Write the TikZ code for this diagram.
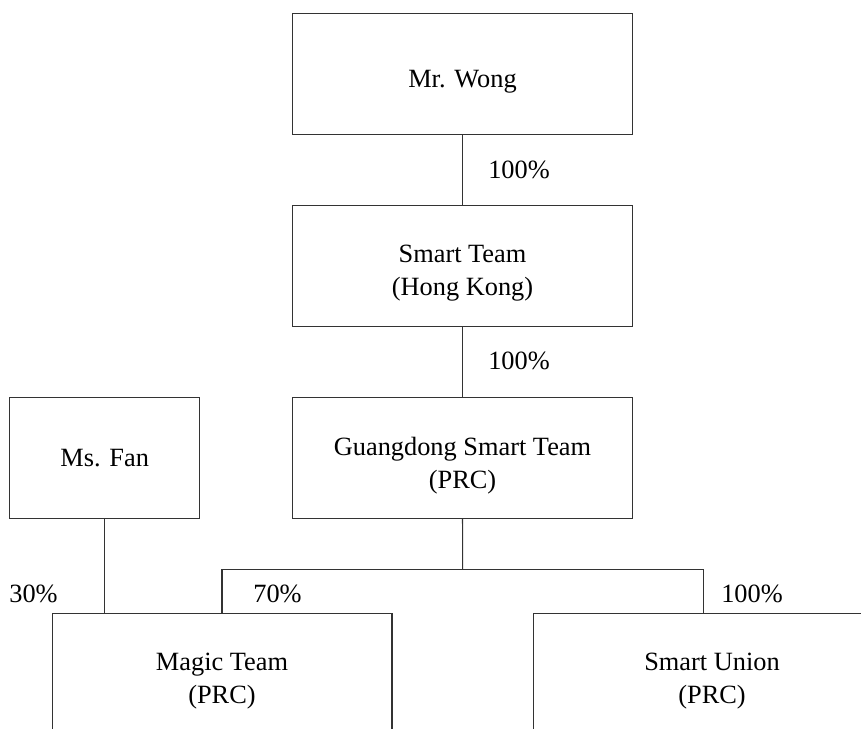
\documentclass[tikz,border=0pt]{standalone}
\usepackage{fontspec}
\setmainfont{Liberation Serif}
\tikzset{
  entity/.style={draw=black!80, line width=0.6pt,
    minimum width=6.8cm, minimum height=2.42cm},
  share/.style={font=\fontsize{15}{18.8}\selectfont, align=center},
  named/.style={label={[share, yshift=-0.15cm]center:#1}},
  link/.style={draw=black!80, line width=0.6pt}
}
\begin{document}
\begin{tikzpicture}[x=0.02cm, y=-0.02cm]
% Keep the page at the size of the chart
\useasboundingbox (0,0) rectangle (861,728);
\clip (0,0) rectangle (861,728);
% The owners and companies
\node[entity, named={Mr. Wong}] (wong) at (462.5,74) {};
\node[entity, named={Smart Team\\(Hong Kong)}] (smart) at (462.5,266) {};
\node[entity, named={Guangdong Smart Team\\(PRC)}] (gd) at (462.5,458) {};
\node[entity, minimum width=3.79cm, label={[share]center:Ms. Fan}] (fan) at (104.7,458) {};
% The bottom row runs off the page
\node[entity, named={Magic Team\\(PRC)}] (magic) at (222,673.5) {};
\node[entity, minimum width=7.16cm, named={Smart Union\\(PRC)}] (union) at (712,673.5) {};
% Where the lines split
\coordinate (split) at (462.7,569.3);
\coordinate (rbranch) at (703.3,569.3);
% Draw the lines of ownership
\draw[link] (wong) -- (smart);
\draw[link] (smart) -- (gd);
\draw[link] (gd.south) -- (split);
\draw[link] (magic.north) |- (rbranch) -- (rbranch |- union.north);
\draw[link] (fan.south) -- (fan.south |- magic.north);
% Percentages
\node[share] (p1) at (519,170) {100\%};
\node[share] (p2) at (519,361) {100\%};
\node[share] (p3) at (33.5,594) {30\%};
\node[share] (p4) at (277.5,594) {70\%};
\node[share] (p5) at (752,594) {100\%};
\end{tikzpicture}
\end{document}
